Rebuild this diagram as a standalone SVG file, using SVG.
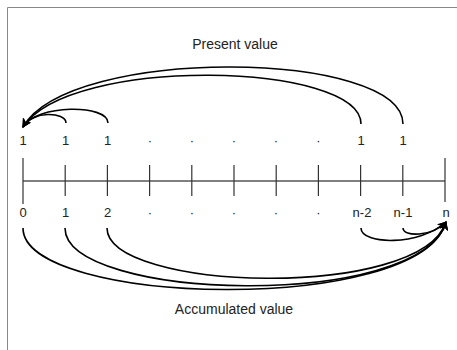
<svg xmlns="http://www.w3.org/2000/svg" width="457" height="350" viewBox="0 0 457 350">
<style>
.lbl{font-family:"Liberation Sans",Arial,sans-serif;font-size:13px;fill:#222;text-anchor:middle}
.ttl{font-family:"Liberation Sans",Arial,sans-serif;font-size:14px;fill:#222;text-anchor:middle}
.tick{stroke:#333;stroke-width:1.2}
.arc{fill:none;stroke:#000;stroke-width:1.6}
</style>
<defs>
<marker id="ah" viewBox="0 0 10 10" refX="9" refY="5" markerWidth="9" markerHeight="9" markerUnits="userSpaceOnUse" orient="auto">
<path d="M0,0 L10,5 L0,10 L3,5 Z" fill="#000"/>
</marker>
</defs>
<rect width="457" height="350" fill="#fff"/>
<g id="frame" fill="none" stroke="#888" stroke-width="1">
<path d="M7.5,350 V7.5 H457"/>
</g>
<g id="axis">
<line x1="23" y1="181" x2="445" y2="181" stroke="#000" stroke-width="1"/>
<line class="tick" x1="23" y1="158" x2="23" y2="204"/>
<line class="tick" x1="65.2" y1="165" x2="65.2" y2="196"/>
<line class="tick" x1="107.4" y1="165" x2="107.4" y2="196"/>
<line class="tick" x1="149.6" y1="165" x2="149.6" y2="196"/>
<line class="tick" x1="191.8" y1="165" x2="191.8" y2="196"/>
<line class="tick" x1="234" y1="165" x2="234" y2="196"/>
<line class="tick" x1="276.2" y1="165" x2="276.2" y2="196"/>
<line class="tick" x1="318.4" y1="165" x2="318.4" y2="196"/>
<line class="tick" x1="360.6" y1="165" x2="360.6" y2="196"/>
<line class="tick" x1="402.8" y1="165" x2="402.8" y2="196"/>
<line class="tick" x1="445" y1="158" x2="445" y2="202"/>
</g>
<g id="top-labels">
<text class="lbl" x="23" y="145">1</text>
<text class="lbl" x="65.5" y="145">1</text>
<text class="lbl" x="107.5" y="145">1</text>
<text class="lbl" x="150" y="145">·</text>
<text class="lbl" x="192" y="145">·</text>
<text class="lbl" x="234" y="145">·</text>
<text class="lbl" x="276" y="145">·</text>
<text class="lbl" x="318.5" y="145">·</text>
<text class="lbl" x="361" y="145">1</text>
<text class="lbl" x="403" y="145">1</text>
</g>
<g id="bottom-labels">
<text class="lbl" x="23" y="217">0</text>
<text class="lbl" x="65.5" y="217">1</text>
<text class="lbl" x="107.5" y="217">2</text>
<text class="lbl" x="150" y="217">·</text>
<text class="lbl" x="192" y="217">·</text>
<text class="lbl" x="234" y="217">·</text>
<text class="lbl" x="276" y="217">·</text>
<text class="lbl" x="318.5" y="217">·</text>
<text class="lbl" x="362" y="217">n-2</text>
<text class="lbl" x="403" y="217">n-1</text>
<text class="lbl" x="446" y="217">n</text>
</g>
<g id="titles">
<text class="ttl" x="235" y="49">Present value</text>
<text class="ttl" x="234" y="314">Accumulated value</text>
</g>
<g id="connectors">
<path class="arc" marker-end="url(#ah)" d="M403,124 C403,50 70,45 23,127"/>
<path class="arc" marker-end="url(#ah)" d="M361,124 C361,62 70,55 23,127"/>
<path class="arc" marker-end="url(#ah)" d="M108,123 C108,104 36,104 23,127"/>
<path class="arc" marker-end="url(#ah)" d="M66,123 C66,112 32,110 23,127"/>
<path class="arc" marker-end="url(#ah)" d="M23,228 C23,306 420,316 446,222"/>
<path class="arc" marker-end="url(#ah)" d="M65,228 C65,301 420,311 446,222"/>
<path class="arc" marker-end="url(#ah)" d="M107,228 C107,291 420,301 446,222"/>
<path class="arc" marker-end="url(#ah)" d="M361,228 C361,245 420,246 446,222"/>
<path class="arc" marker-end="url(#ah)" d="M403,228 C403,237 432,237 446,222"/>
</g>
</svg>
